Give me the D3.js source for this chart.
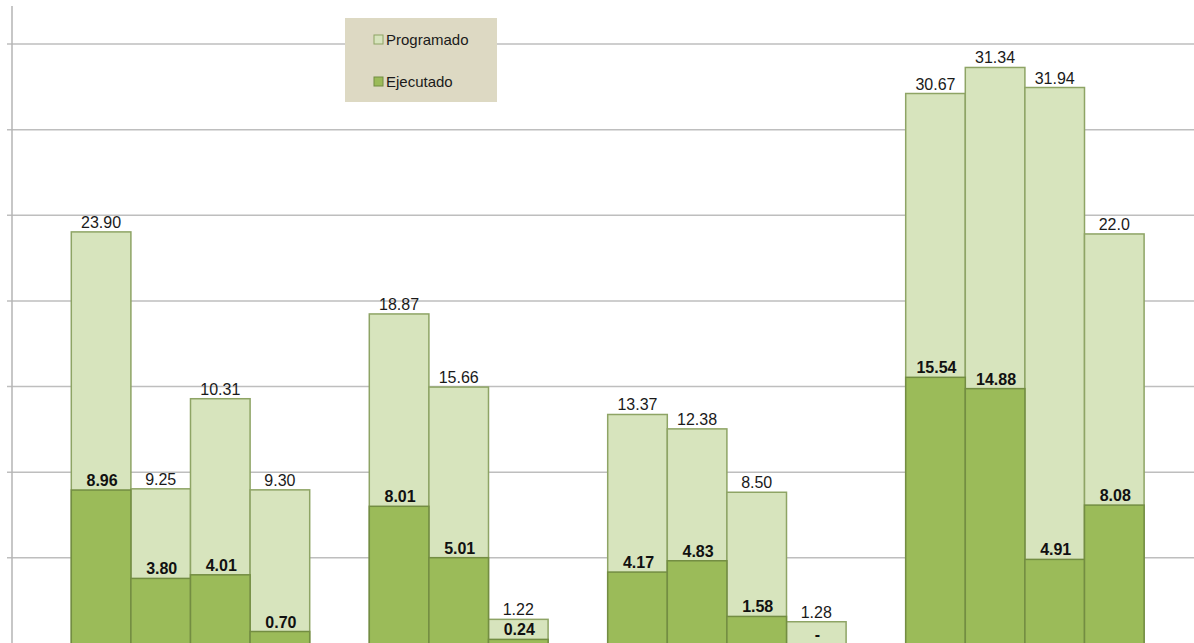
<!DOCTYPE html>
<html>
<head>
<meta charset="utf-8">
<script src="https://cdn.jsdelivr.net/npm/d3@7"></script>
<style>
  html, body { margin: 0; padding: 0; background: #fff; }
  svg { display: block; font-family: "Liberation Sans", Arial, sans-serif; }
</style>
</head>
<body>
<svg id="chart" width="1194" height="643"></svg>
<script>
// Posiciones del eje x (las vacías separan los grupos)
const posiciones = d3.range(20);
const huecos = [0, 5, 9, 14, 19];
const barras = posiciones.filter(p => !huecos.includes(p));

// Altura de las barras "Programado" tal como se ven en la imagen
const programado = [24.03, 9.03, 14.29, 8.97, 19.24, 14.97, 1.41, 13.37, 12.53, 8.83, 1.27, 32.11, 33.63, 32.46, 23.91];
// Etiquetas escritas sobre las barras "Programado"
const etiquetasProgramado = ["23.90", "9.25", "10.31", "9.30", "18.87", "15.66", "1.22", "13.37", "12.38", "8.50", "1.28", "30.67", "31.34", "31.94", "22.0"];
// Valores "Ejecutado"
const ejecutado = [8.96, 3.80, 4.01, 0.70, 8.01, 5.01, 0.24, 4.17, 4.83, 1.58, 0, 15.54, 14.88, 4.91, 8.08];

const lineasGuia = [5, 10, 15, 20, 25, 30, 35];
const series = ["Programado", "Ejecutado"];
const colores = { Programado: "#d7e4bd", Ejecutado: "#9bbb59" };
const bordes = { Programado: "#8ea465", Ejecutado: "#738d42" };

const svg = d3.select("#chart");

var x = d3.scaleBand().domain(posiciones).range([11.7, 1203.7]).padding(0);
var y = d3.scaleLinear().domain([0, 35]).range([643.5, 44]);

// lineas de la grilla
svg.append("g")
  .selectAll("line")
  .data(lineasGuia)
  .enter()
  .append("line")
  .attr("x1", 7)
  .attr("x2", 1194)
  .attr("y1", d => y(d))
  .attr("y2", d => y(d))
  .attr("stroke", "#bebebe")
  .attr("stroke-width", 1.5);

// eje vertical
svg.append("line")
  .attr("x1", 12).attr("x2", 12)
  .attr("y1", 6).attr("y2", 643)
  .attr("stroke", "#b4b4b4")
  .attr("stroke-width", 1.5);

const datos = barras.map((p, i) => ({
  pos: p,
  prog: programado[i],
  progTxt: etiquetasProgramado[i],
  ejec: ejecutado[i]
}));

// barras programado (detras)
svg.append("g")
  .selectAll("rect")
  .data(datos)
  .enter()
  .append("rect")
  .attr("x", d => x(d.pos))
  .attr("y", d => y(d.prog))
  .attr("width", x.bandwidth())
  .attr("height", d => y(0) - y(d.prog) + 5)
  .attr("fill", colores.Programado)
  .attr("stroke", bordes.Programado)
  .attr("stroke-width", 1.5);

// barras ejecutado (delante)
svg.append("g")
  .selectAll("rect")
  .data(datos.filter(d => d.ejec > 0))
  .enter()
  .append("rect")
  .attr("x", d => x(d.pos))
  .attr("y", d => y(d.ejec))
  .attr("width", x.bandwidth())
  .attr("height", d => y(0) - y(d.ejec) + 5)
  .attr("fill", colores.Ejecutado)
  .attr("stroke", bordes.Ejecutado)
  .attr("stroke-width", 1.5);

// etiquetas programado
svg.append("g")
  .selectAll("text")
  .data(datos)
  .enter()
  .append("text")
  .attr("x", d => x(d.pos) + x.bandwidth() / 2)
  .attr("y", d => y(d.prog) - 4)
  .attr("text-anchor", "middle")
  .style("font-size", "16px")
  .style("fill", "#1a1a1a")
  .text(d => d.progTxt);

// etiquetas ejecutado
svg.append("g")
  .selectAll("text")
  .data(datos)
  .enter()
  .append("text")
  .attr("x", d => x(d.pos) + x.bandwidth() / 2 + 1)
  .attr("y", d => y(d.ejec) - 4)
  .attr("text-anchor", "middle")
  .style("font-size", "16px")
  .style("font-weight", "bold")
  .style("fill", "#111")
  .text(d => d.ejec > 0 ? d.ejec.toFixed(2) : "-");

// leyenda
var leyenda = svg.append("g");
leyenda.append("rect")
  .attr("x", 345).attr("y", 18)
  .attr("width", 152).attr("height", 84)
  .attr("fill", "#ddd9c3");

leyenda.selectAll(".item")
  .data(series)
  .enter()
  .append("g")
  .attr("class", "item")
  .attr("transform", (d, i) => "translate(374," + (35 + i * 42) + ")")
  .each(function (d) {
    var g = d3.select(this);
    g.append("rect")
      .attr("x", 0).attr("y", 0)
      .attr("width", 9).attr("height", 9)
      .attr("fill", colores[d])
      .attr("stroke", bordes[d])
      .attr("stroke-width", 1);
    g.append("text")
      .attr("x", 12).attr("y", 10)
      .style("font-size", "15px")
      .style("fill", "#1a1a1a")
      .text(d);
  });
</script>
</body>
</html>
